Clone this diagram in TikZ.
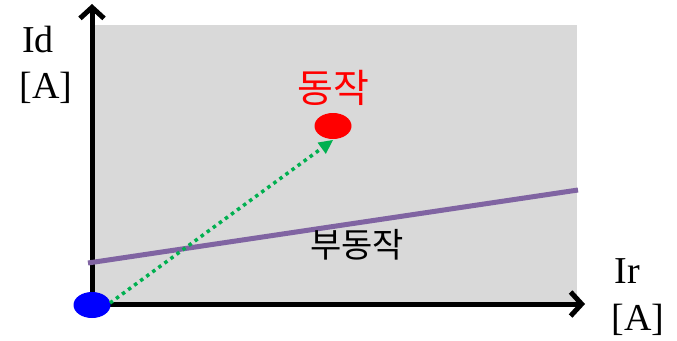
\documentclass[tikz,border=0pt]{standalone}
\usepackage{fontspec}
\setmainfont{Liberation Serif}
\newfontfamily\kr{Noto Sans CJK KR}
\usetikzlibrary{arrows.meta,shapes.geometric}
\begin{document}
\begin{tikzpicture}[x=1pt,y=-1pt,
  axis/.style={line width=5pt,-{Straight Barb[length=11pt,width=24pt,line width=5pt]}},
  lbl/.style={font=\fontsize{38}{40}\selectfont,inner sep=0pt},
  krl/.style={font=\kr\fontsize{34}{36}\selectfont,inner sep=0pt}]
\useasboundingbox (0,0) rectangle (677,340);
\fill[gray!30] (93,25) rectangle (577,304);
\coordinate (o) at (92,304);
\coordinate (ytop) at (92,4);
\coordinate (xend) at (585,304);
\draw[axis] (92,306.5) -- (ytop);
\draw[axis] (89.5,304) -- (xend);
\draw[line width=5pt,color={rgb,255:red,128;green,100;blue,162}] (88,263) -- (578,190);
\node[fill=blue,ellipse,minimum width=37pt,minimum height=26pt,inner sep=0pt] (b) at (92,305) {};
\node[fill=red,ellipse,minimum width=37pt,minimum height=26pt,inner sep=0pt] (r) at (333,126) {};
\draw[color={rgb,255:red,0;green,176;blue,80},line width=3.5pt,dash pattern=on 3.5pt off 4pt,
  -{Triangle[length=14pt,width=14pt,line width=0pt]}] (110,303) -- (333,140);
\node[krl,text=red,font=\kr\fontsize{39}{40}\selectfont] (dz) at (333,88) {동작};
\node[krl] (bdz) at (357,245) {부동작};
\node[lbl] (id) at (38,40) {Id};
\node[lbl] (ida) at (46,88) {[A]};
\node[lbl] (ir) at (627,271) {Ir};
\node[lbl] (ira) at (638,320) {[A]};
\end{tikzpicture}
\end{document}
